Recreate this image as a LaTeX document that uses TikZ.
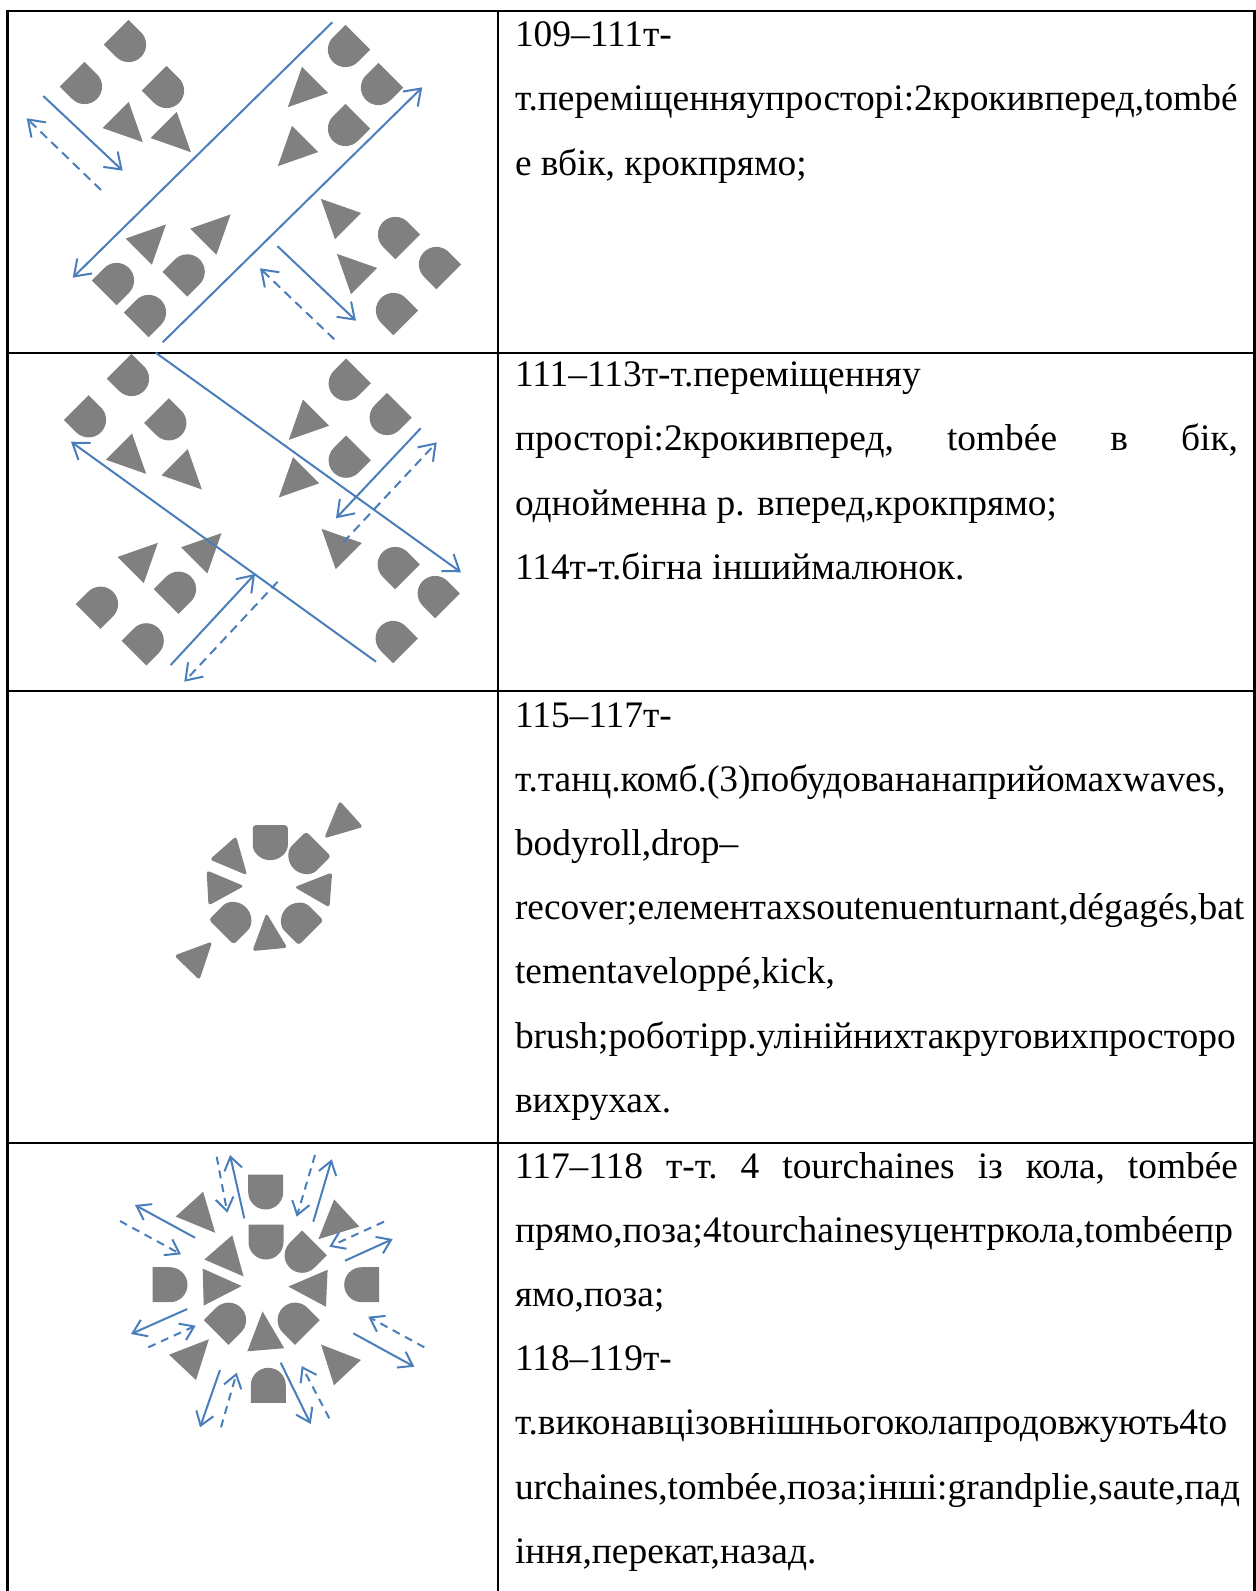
\documentclass[tikz,border=0pt]{standalone}
\usepackage{fontspec}
\setmainfont{Liberation Serif}
\usetikzlibrary{arrows.meta}
\definecolor{dgray}{RGB}{128,128,128}
\definecolor{ablue}{RGB}{74,126,187}
\tikzset{
  dnc/.pic={\fill[dgray] (-17.5,-17.5) -- (17.5,-17.5) -- (17.5,0) arc[start angle=0,end angle=180,radius=17.5] -- cycle;},
  tri/.pic={\fill[dgray] (0,25.7) -- (18.5,-12.8) -- (-18.5,-12.8) -- cycle;},
  tbl/.style={line width=2.6pt, black},
  arr/.style={draw=ablue, line width=2pt, -{Straight Barb[length=15pt,width=21pt,line width=2pt]}},
  darr/.style={arr, dash pattern=on 9pt off 6pt},
  sarr/.style={draw=ablue, line width=2pt, -{Straight Barb[length=13pt,width=18pt,line width=2pt]}},
  sdarr/.style={sarr, dash pattern=on 8pt off 6pt},
  txt/.style={anchor=base west, inner sep=0pt, outer sep=0pt, font=\fontsize{37.4}{64}\selectfont},
  soft/.style={rounded corners=3pt}
}
\begin{document}
\begin{tikzpicture}[x=1pt,y=-1pt]
\useasboundingbox (0,0) rectangle (1256,1591);
\fill[white] (0,0) rectangle (1256,1591);

% ---------- table ----------
\draw[tbl] (7.5,9.7) -- (7.5,1591);
\draw[tbl] (498,9.7) -- (498,1591);
\draw[tbl] (1254.7,9.7) -- (1254.7,1591);
\draw[tbl] (6.2,11) -- (1256,11);
\draw[tbl] (6.2,353) -- (1256,353);
\draw[tbl] (6.2,691) -- (1256,691);
\draw[tbl] (6.2,1143) -- (1256,1143);

% ---------- row 1 ----------
\pic[rotate=45] at (128.6,44.6) {dnc};
\pic[rotate=45] at (84.6,86.6) {dnc};
\pic[rotate=45] at (166.6,90.6) {dnc};
\pic[rotate=45] at (124.7,124) {tri};
\pic[rotate=45] at (172.7,134) {tri};
\pic[rotate=-45] at (345.4,49.6) {dnc};
\pic[rotate=-45] at (378.4,87.6) {dnc};
\pic[rotate=-45] at (345.4,128.6) {dnc};
\pic[rotate=-45] at (306,89) {tri};
\pic[rotate=-45] at (296,148) {tri};
\pic[rotate=135] at (147.8,242.6) {tri};
\pic[rotate=135] at (212.4,232.6) {tri};
\pic[rotate=135] at (116.6,280.4) {dnc};
\pic[rotate=135] at (187.3,271.8) {dnc};
\pic[rotate=135] at (148.6,312.4) {dnc};
\pic[rotate=-135] at (339,217) {tri};
\pic[rotate=-135] at (355,272) {tri};
\pic[rotate=-135] at (395.4,234.4) {dnc};
\pic[rotate=-135] at (436.4,264.4) {dnc};
\pic[rotate=-135] at (393.4,310.4) {dnc};

\draw[arr] (332.3,22.3) -- (72.7,277.7);
\draw[arr] (162.7,342.3) -- (422.3,87.3);
\draw[arr] (43.3,96) -- (122.7,170.7);
\draw[darr] (101,190) -- (26.7,118.3);
\draw[arr] (277.3,246) -- (356,320.7);
\draw[darr] (334.3,339.3) -- (260,268.3);

% ---------- row 2 ----------
\pic[rotate=45] at (131.6,378.6) {dnc};
\pic[rotate=45] at (88.6,419.9) {dnc};
\pic[rotate=45] at (168.9,422.9) {dnc};
\pic[rotate=45] at (128,455.7) {tri};
\pic[rotate=45] at (183.7,471.3) {tri};
\pic[rotate=-45] at (346.1,383.3) {dnc};
\pic[rotate=-45] at (387.1,417.6) {dnc};
\pic[rotate=-45] at (346.1,460.3) {dnc};
\pic[rotate=-45] at (307,421.7) {tri};
\pic[rotate=-45] at (297,479.3) {tri};
\pic[rotate=135] at (139.7,561) {tri};
\pic[rotate=135] at (203.3,551.3) {tri};
\pic[rotate=135] at (100.6,604.1) {dnc};
\pic[rotate=135] at (178.6,589.1) {dnc};
\pic[rotate=135] at (146.3,640.7) {dnc};
\pic[rotate=-135] at (339.7,547) {tri};
\pic[rotate=-135] at (395.1,564.4) {dnc};
\pic[rotate=-135] at (435.1,593.4) {dnc};
\pic[rotate=-135] at (393.1,638.4) {dnc};

\draw[arr] (155.7,352.7) -- (461,572.3);
\draw[arr] (376,661.7) -- (71,441.7);
\draw[arr] (420.7,428.3) -- (336,518.3);
\draw[darr] (343.3,542.3) -- (436.7,442.3);
\draw[arr] (170.7,665) -- (255,574);
\draw[darr] (277.7,581.7) -- (184.3,681.7);

% ---------- row 3 ----------
\pic[soft,rotate=0] at (270.3,842.7) {dnc};
\pic[soft,rotate=-45] at (306.1,856.3) {dnc};
\pic[soft,rotate=135] at (233.6,919.7) {dnc};
\pic[soft,rotate=-135] at (298.7,920.4) {dnc};
\pic[soft,rotate=41.5,scale=0.95] at (231,857) {tri};
\pic[soft,rotate=93,scale=0.95] at (219.7,887.3) {tri};
\pic[soft,rotate=-94.4,scale=0.95] at (318.7,889) {tri};
\pic[soft,rotate=185.4,scale=0.95] at (268.7,937.3) {tri};
\pic[soft,rotate=-48,scale=0.95] at (342.3,822) {tri};
\pic[soft,rotate=136,scale=0.95] at (195.3,959) {tri};

% ---------- row 4 ----------
% inner circle
\pic[rotate=0] at (266,1242) {dnc};
\pic[rotate=-45] at (302.1,1255.3) {dnc};
\pic[rotate=135] at (228.6,1320.1) {dnc};
\pic[rotate=-135] at (295.1,1320.1) {dnc};
\pic[rotate=41] at (226.7,1257) {tri};
\pic[rotate=91.6] at (216,1286.7) {tri};
\pic[rotate=-92.5] at (314,1287.7) {tri};
\pic[rotate=184.8] at (264.7,1337) {tri};
% outer circle
\pic[rotate=0] at (265.7,1192) {dnc};
\pic[rotate=-90] at (361.7,1284.7) {dnc};
\pic[rotate=180] at (268.3,1385.3) {dnc};
\pic[rotate=90] at (170,1284.7) {dnc};
\pic[rotate=-47.2] at (337.3,1221.7) {tri};
\pic[rotate=-136.8] at (338.7,1363.3) {tri};
\pic[rotate=136.8] at (191.3,1358) {tri};
\pic[rotate=42] at (198,1213.7) {tri};

\draw[sarr] (244.3,1218.3) -- (230,1155);
\draw[sdarr] (216.7,1156.7) -- (227.3,1212.7);
\draw[sarr] (313.3,1221.7) -- (331.7,1159.3);
\draw[sdarr] (315,1155) -- (296.7,1216.7);
\draw[sarr] (195,1237.7) -- (135,1205);
\draw[sdarr] (120,1221) -- (181,1254.3);
\draw[sdarr] (384,1221.7) -- (329.3,1246.7);
\draw[sarr] (345,1260.7) -- (392.7,1239);
\draw[sarr] (187.3,1309) -- (131,1334);
\draw[sdarr] (148.3,1347.3) -- (195.7,1325.7);
\draw[sdarr] (424.3,1347.3) -- (368.3,1316.7);
\draw[sarr] (353.3,1333.3) -- (414.3,1366.7);
\draw[sarr] (220,1370) -- (200,1427.3);
\draw[sdarr] (221,1427.3) -- (236.7,1372.7);
\draw[sarr] (280.7,1362.7) -- (310.7,1424);
\draw[sdarr] (329.3,1418.3) -- (301.7,1366);

% ---------- texts ----------
\node[txt] (r1a) at (515,46.7) {109–111т-};
\node[txt] (r1b) at (515,110.9) {т.переміщенняупросторі:2крокивперед,tombé};
\node[txt] (r1c) at (515,175.1) {е вбік, крокпрямо;};

\node[txt] (r2a) at (515,386.7) {111–113т-т.переміщенняу};
\node[txt] (r2b) at (515,450.9) {\makebox[723pt][s]{просторі:2крокивперед,\hfill tombée\hfill в\hfill бік,}};
\node[txt] (r2c) at (515,515.1) {однойменна р. вперед,крокпрямо;};
\node[txt] (r2d) at (515,579.3) {114т-т.бігна іншиймалюнок.};

\node[txt] (r3a) at (515,727) {115–117т-};
\node[txt] (r3b) at (515,791.2) {т.танц.комб.(3)побудовананаприйомахwaves,};
\node[txt] (r3c) at (515,855.4) {bodyroll,drop–};
\node[txt] (r3d) at (515,919.6) {recover;елементахsoutenuenturnant,dégagés,bat};
\node[txt] (r3e) at (515,983.8) {tementaveloppé,kick,};
\node[txt] (r3f) at (515,1048) {brush;роботірр.улінійнихтакруговихпросторо};
\node[txt] (r3g) at (515,1112.2) {вихрухах.};

\node[txt] (r4a) at (515,1178) {\makebox[723pt][s]{117–118\hfill т-т.\hfill 4\hfill tourchaines\hfill із\hfill кола,\hfill tombée}};
\node[txt] (r4b) at (515,1242.2) {прямо,поза;4tourchainesуцентркола,tombéeпр};
\node[txt] (r4c) at (515,1306.4) {ямо,поза;};
\node[txt] (r4d) at (515,1370.6) {118–119т-};
\node[txt] (r4e) at (515,1434.8) {т.виконавцізовнішньогоколапродовжують4to};
\node[txt] (r4f) at (515,1499) {urchaines,tombée,поза;інші:grandplie,saute,пад};
\node[txt] (r4g) at (515,1563.2) {іння,перекат,назад.};
\end{tikzpicture}
\end{document}
